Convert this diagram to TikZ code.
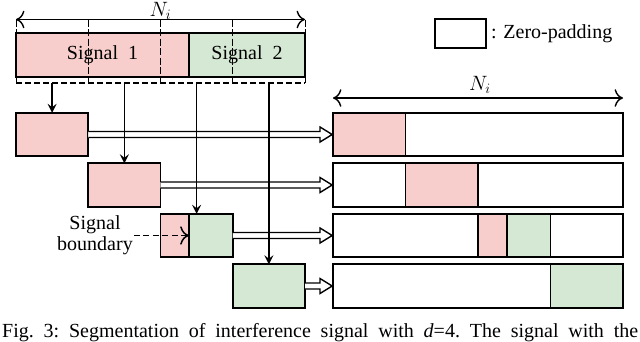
\documentclass[tikz,border=0pt]{standalone}
\usepackage{fontspec}
\setmainfont{Liberation Serif}
\usetikzlibrary{arrows.meta,calc}
\definecolor{sigpink}{HTML}{F8CECC}
\definecolor{siggreen}{HTML}{D5E8D4}
\tikzset{
  segbox/.style={draw, line width=1.6pt, minimum height=43.5pt, inner sep=0pt, outer sep=0pt},
  pinkbox/.style={segbox, fill=sigpink},
  greenbox/.style={segbox, fill=siggreen},
  whitebox/.style={segbox, fill=white},
  bnd/.style={line width=1pt, dash pattern=on 7pt off 2.5pt},
  feed/.style={line width=1.5pt, -{Stealth[length=9pt,width=9pt,inset=3.5pt]}},
  width arrow/.style={line width=1.4pt, {Computer Modern Rightarrow[scale=1.8]}-{Computer Modern Rightarrow[scale=1.8]}},
  dblarrow/.style={line width=1.4pt, fill=white, line join=miter},
}
\newcommand{\mydbl}[2]{%
  \path[fill=white] let \p1=(#1.east), \p2=(#2.west) in
    (\x1,\y1+3pt) -- (\x2-13pt,\y1+3pt) -- (\x2-13pt,\y1+7.5pt) -- (\x2-0.8pt,\y1)
    -- (\x2-13pt,\y1-7.5pt) -- (\x2-13pt,\y1-3pt) -- (\x1,\y1-3pt) -- cycle;
  \draw[dblarrow] let \p1=(#1.east), \p2=(#2.west) in
    (\x1,\y1+3pt) -- (\x2-13pt,\y1+3pt) -- (\x2-13pt,\y1+7.5pt) -- (\x2-0.8pt,\y1)
    -- (\x2-13pt,\y1-7.5pt) -- (\x2-13pt,\y1-3pt) -- (\x1,\y1-3pt);
}
\begin{document}
\begin{tikzpicture}[x=1pt,y=-1pt, font=\fontsize{20}{24}\selectfont]
\useasboundingbox (0,0) rectangle (640,341);
\clip (0,0) rectangle (640,341);

% ---- top signal bar ----
\node[pinkbox, minimum width=173pt, minimum height=44pt] (sig1) at (102.5,55) {Signal\ \ 1};
\node[greenbox, minimum width=116pt, minimum height=44pt] (sig2) at (247,55) {Signal\ \ 2};

% boundaries
\foreach \i/\x in {0/16,1/88.25,2/160.5,3/232.75,4/305} {
  \coordinate (t\i) at (\x,19.5);
  \coordinate (b\i) at (\x,83);
  \draw[bnd] (t\i) -- (b\i);
}
\draw[line width=1.2pt, dash pattern=on 6pt off 3pt] (b0) -- (b4);
\draw[width arrow] (t0) -- (t4);
\node (ni1) at (160.5,11) {$N_i$};

% ---- segment boxes (left) ----
\node[pinkbox, minimum width=72.25pt] (s1) at (52.125,134.5) {};
\node[pinkbox, minimum width=72.25pt] (s2) at (124.375,185) {};
\node[pinkbox, minimum width=28.5pt] (s3a) at (174.75,235.5) {};
\node[greenbox, minimum width=43.75pt] (s3b) at (210.875,235.5) {};
\node[greenbox, minimum width=72.25pt] (s4) at (268.875,286) {};

% ---- zero-padded boxes (right) ----
\node[whitebox, minimum width=290pt] (r1) at (478,134.5) {};
\node[whitebox, minimum width=290pt] (r2) at (478,185) {};
\node[whitebox, minimum width=290pt] (r3) at (478,235.5) {};
\node[whitebox, minimum width=290pt] (r4) at (478,286) {};
\node[pinkbox, minimum width=72.5pt] (p1) at (369.25,134.5) {};
\node[pinkbox, minimum width=72.5pt] (p2) at (441.75,185) {};
\node[pinkbox, minimum width=29pt] (p3a) at (492.5,235.5) {};
\node[greenbox, minimum width=43.5pt] (p3b) at (528.75,235.5) {};
\node[greenbox, minimum width=72.5pt] (p4) at (586.75,286) {};
\draw[line width=1.6pt] (r1.north west) rectangle (r1.south east);
\draw[line width=1.6pt] (r2.north west) rectangle (r2.south east);
\draw[line width=1.6pt] (r3.north west) rectangle (r3.south east);
\draw[line width=1.6pt] (r4.north west) rectangle (r4.south east);

% width arrow right
\coordinate (u0) at (333,98);
\coordinate (u1) at (623,98);
\draw[width arrow] (u0) -- (u1);
\node (ni2) at (480,85) {$N_i$};

% ---- double arrows ----
\mydbl{s1}{r1}
\mydbl{s2}{r2}
\mydbl{s3b}{r3}
\mydbl{s4}{r4}

% ---- feed arrows ----
\coordinate (c1) at (52.125,83);
\coordinate (c2) at (124.375,83);
\coordinate (c3) at (196.625,83);
\coordinate (c4) at (268.875,83);
\draw[feed] (c1) -- (c1 |- s1.north);
\draw[feed] (c2) -- (c2 |- s2.north);
\draw[feed] (c3) -- (c3 |- s3b.north);
\draw[feed] (c4) -- (c4 |- s4.north);

% ---- signal boundary ----
\node[align=center, inner sep=1pt] (sb) at (95,235) {Signal\\[-3pt]boundary};
\draw[line width=1.5pt, dash pattern=on 6pt off 3.5pt, -{Computer Modern Rightarrow[scale=1.8]}] (sb.east |- s3a.west) -- (s3a.east);

% ---- legend ----
\node[segbox, minimum width=51pt, minimum height=29pt] (zp) at (460.5,33.5) {};
\node[anchor=west, inner sep=0pt] (zpt) at ([xshift=5pt]zp.east) {: Zero-padding};

% ---- caption ----
\node[anchor=base west, inner sep=0pt] (cap) at (2,337.5) {\frenchspacing\makebox[636pt][s]{Fig. 3: Segmentation of interference signal with \textit{d}=4. The signal with the}};
\end{tikzpicture}
\end{document}
